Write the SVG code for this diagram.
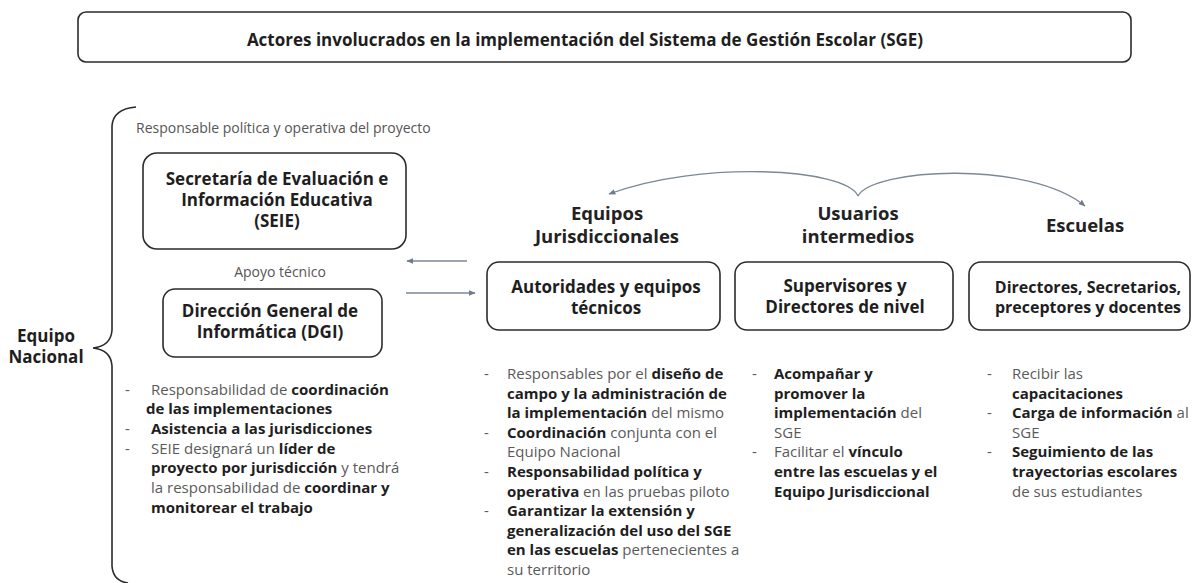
<svg xmlns="http://www.w3.org/2000/svg" width="1198" height="583" viewBox="0 0 1198 583">
<defs>
<style>
text{font-family:"Open Sans","Noto Sans","DejaVu Sans",sans-serif;}
.box{fill:#fff;stroke:#2b2b2b;stroke-width:1.6;}
.title{font-size:17px;font-weight:700;fill:#1e1e1e;}
.hd{font-size:18.5px;font-weight:700;fill:#222;text-anchor:middle;}
.bt{font-size:17px;font-weight:700;fill:#1e1e1e;text-anchor:middle;}
.bs{font-size:16px;}
.note{font-size:14px;fill:#555;}
.body{font-size:15px;fill:#5a5a5a;}
.b{font-weight:700;fill:#1e1e1e;}
.con{fill:none;stroke:#7b8896;stroke-width:1.3;}
.brace{fill:none;stroke:#2b2b2b;stroke-width:1.6;}
</style>
<marker id="ah" viewBox="0 0 10 10" refX="9" refY="5" markerWidth="7" markerHeight="7" orient="auto" markerUnits="userSpaceOnUse">
<path d="M0,1 L10,5 L0,9 z" fill="#6f7c8a"/>
</marker>
</defs>

<g id="title">
<rect class="box" x="78" y="12" width="1053" height="50" rx="8"/>
<text class="title" x="585" y="46" text-anchor="middle">Actores involucrados en la implementación del Sistema de Gestión Escolar (SGE)</text>
</g>

<g id="equipo-nacional">
<path class="brace" d="M136 107 Q113 109 112 126 L112 330 Q111 346 93 348 Q111 350 112 366 L112 566 Q113 581 128 583"/>
<text class="bt" x="46" y="342">Equipo</text>
<text class="bt" x="46" y="363">Nacional</text>
<text class="note" x="136" y="133">Responsable política y operativa del proyecto</text>
</g>

<g id="seie">
<rect class="box" x="143" y="153" width="263" height="96" rx="14"/>
<text class="bt" x="277" y="185">Secretaría de Evaluación e</text>
<text class="bt" x="277" y="206">Información Educativa</text>
<text class="bt" x="277" y="227">(SEIE)</text>
</g>

<g id="apoyo">
<text class="note" x="280" y="277" text-anchor="middle">Apoyo técnico</text>
</g>

<g id="dgi">
<rect class="box" x="163" y="289" width="219" height="68" rx="12"/>
<text class="bt" x="270" y="317">Dirección General de</text>
<text class="bt" x="270" y="338">Informática (DGI)</text>
</g>

<g id="nacional-tareas" class="body">
<text x="125" y="395">-</text>
<text x="151" y="395">Responsabilidad de <tspan class="b">coordinación</tspan></text>
<text x="146" y="414" class="b">de las implementaciones</text>
<text x="125" y="434">-</text>
<text x="151" y="434" class="b">Asistencia a las jurisdicciones</text>
<text x="125" y="454">-</text>
<text x="151" y="454">SEIE designará un <tspan class="b">líder de</tspan></text>
<text x="151" y="473"><tspan class="b">proyecto por jurisdicción</tspan> y tendrá</text>
<text x="151" y="493">la responsabilidad de <tspan class="b">coordinar y</tspan></text>
<text x="151" y="513" class="b">monitorear el trabajo</text>
</g>

<g id="equipos-jurisdiccionales">
<text class="hd" x="607" y="220">Equipos</text>
<text class="hd" x="607" y="243">Jurisdiccionales</text>
<rect class="box" x="487" y="262" width="233" height="68" rx="12"/>
<text class="bt" x="606" y="293">Autoridades y equipos</text>
<text class="bt" x="606" y="314">técnicos</text>
</g>

<g id="jurisdiccionales-tareas" class="body">
<text x="484" y="379">-</text>
<text x="507" y="379">Responsables por el <tspan class="b">diseño de</tspan></text>
<text x="507" y="398.6" class="b">campo y la administración de</text>
<text x="507" y="418.2"><tspan class="b">la implementación</tspan> del mismo</text>
<text x="484" y="437.8">-</text>
<text x="507" y="437.8"><tspan class="b">Coordinación</tspan> conjunta con el</text>
<text x="507" y="457.4">Equipo Nacional</text>
<text x="484" y="477">-</text>
<text x="507" y="477" class="b">Responsabilidad política y</text>
<text x="507" y="496.6"><tspan class="b">operativa</tspan> en las pruebas piloto</text>
<text x="484" y="516.2">-</text>
<text x="507" y="516.2" class="b">Garantizar la extensión y</text>
<text x="507" y="535.8" class="b">generalización del uso del SGE</text>
<text x="507" y="555.4"><tspan class="b">en las escuelas</tspan> pertenecientes a</text>
<text x="507" y="575">su territorio</text>
</g>

<g id="usuarios-intermedios">
<text class="hd" x="858" y="220">Usuarios</text>
<text class="hd" x="858" y="243">intermedios</text>
<rect class="box" x="735" y="262" width="218" height="68" rx="12"/>
<text class="bt" x="845" y="292">Supervisores y</text>
<text class="bt" x="845" y="313">Directores de nivel</text>
</g>

<g id="usuarios-tareas" class="body">
<text x="752" y="379">-</text>
<text x="774" y="379" class="b">Acompañar y</text>
<text x="774" y="398.6" class="b">promover la</text>
<text x="774" y="418.2"><tspan class="b">implementación</tspan> del</text>
<text x="774" y="437.8">SGE</text>
<text x="752" y="457.4">-</text>
<text x="774" y="457.4">Facilitar el <tspan class="b">vínculo</tspan></text>
<text x="774" y="477" class="b">entre las escuelas y el</text>
<text x="774" y="496.6" class="b">Equipo Jurisdiccional</text>
</g>

<g id="escuelas">
<text class="hd" x="1085" y="232">Escuelas</text>
<rect class="box" x="969" y="262" width="221" height="68" rx="12"/>
<text class="bt bs" x="1088" y="293">Directores, Secretarios,</text>
<text class="bt bs" x="1088" y="313">preceptores y docentes</text>
</g>

<g id="escuelas-tareas" class="body">
<text x="987" y="379">-</text>
<text x="1012" y="379">Recibir las</text>
<text x="1012" y="398.6" class="b">capacitaciones</text>
<text x="987" y="418.2">-</text>
<text x="1012" y="418.2"><tspan class="b">Carga de información</tspan> al</text>
<text x="1012" y="437.8">SGE</text>
<text x="987" y="457.4">-</text>
<text x="1012" y="457.4" class="b">Seguimiento de las</text>
<text x="1012" y="477" class="b">trayectorias escolares</text>
<text x="1012" y="496.6">de sus estudiantes</text>
</g>

<g id="connectors">
<path class="con" d="M467 261 L407 261" marker-end="url(#ah)"/>
<path class="con" d="M406 293 L475 293" marker-end="url(#ah)"/>
<path class="con" d="M858 196 C846 168 700 160 609 194" marker-end="url(#ah)"/>
<path class="con" d="M858 196 C872 168 1030 160 1085 206" marker-end="url(#ah)"/>
</g>
</svg>
